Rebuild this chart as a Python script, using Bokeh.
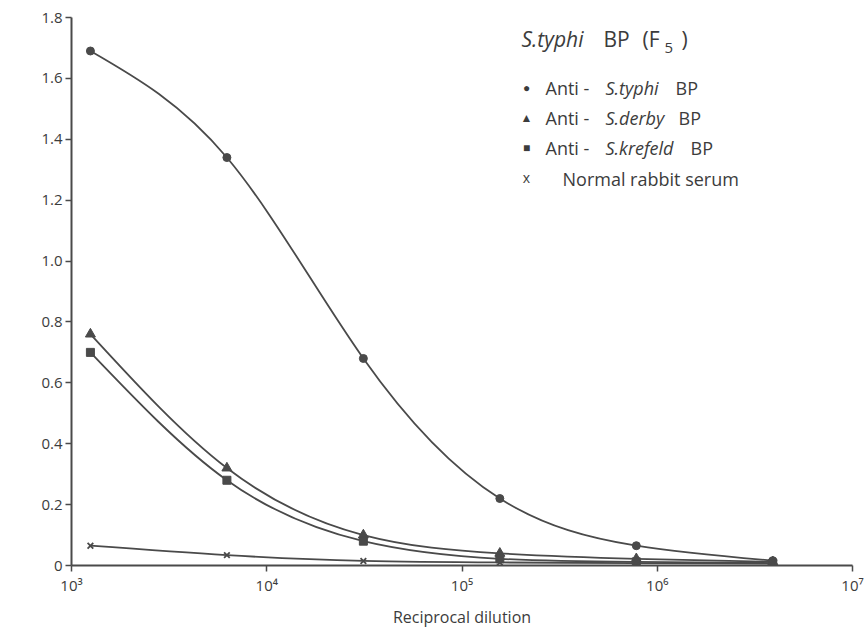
import math
import numpy as np
from bokeh.plotting import figure
from bokeh.models import Range1d, FixedTicker, Label
from bokeh.embed import file_html
from bokeh.resources import INLINE

# ---------------- data ----------------
dilution = [1250, 6250, 31250, 156250, 781250, 3906250]
anti_typhi = [1.69, 1.34, 0.68, 0.22, 0.065, 0.016]
anti_derby = [0.76, 0.32, 0.10, 0.04, 0.022, 0.012]
anti_krefeld = [0.70, 0.28, 0.08, 0.022, 0.012, 0.008]
normal_serum = [0.065, 0.034, 0.015, 0.010, 0.008, 0.006]

x_ticks = [1e3, 1e4, 1e5, 1e6, 1e7]
x_tick_labels = ["10³", "10⁴", "10⁵", "10⁶", "10⁷"]
y_ticks = [0, 0.2, 0.4, 0.6, 0.8, 1.0, 1.2, 1.4, 1.6, 1.8]
y_tick_labels = ["0", "0.2", "0.4", "0.6", "0.8", "1.0", "1.2", "1.4", "1.6", "1.8"]

# ---------------- style ----------------
FONT = "Open Sans"
INK = "#3c3c3c"
LINE = "#4a4a4a"
W, H = 865, 630
LEFT, RIGHT, TOP, BOTTOM = 71, 13, 17, 58

p = figure(width=W, height=H, x_axis_type="log",
           x_range=Range1d(1e3, 1e7), y_range=Range1d(0, 1.8),
           output_backend="svg", toolbar_location=None,
           min_border_left=LEFT, min_border_right=RIGHT,
           min_border_top=TOP, min_border_bottom=BOTTOM)
p.outline_line_color = None
p.grid.visible = False
p.background_fill_color = "white"
p.border_fill_color = "white"

for ax in (p.xaxis[0], p.yaxis[0]):
    ax.axis_line_color = LINE
    ax.axis_line_width = 2
    ax.major_tick_line_color = LINE
    ax.major_tick_line_width = 1.5
    ax.major_tick_in = 0
    ax.major_tick_out = 6
    ax.minor_tick_line_color = None
    ax.major_label_text_font = FONT
    ax.major_label_text_color = INK
    ax.major_label_text_font_size = "15px"
    ax.axis_label_text_font = FONT
    ax.axis_label_text_color = INK
    ax.axis_label_text_font_size = "16px"
    ax.axis_label_text_font_style = "normal"

p.xaxis.ticker = FixedTicker(ticks=x_ticks)
p.xaxis.major_label_overrides = {t: l for t, l in zip(x_ticks, x_tick_labels)}
p.xaxis.axis_label = "Reciprocal dilution"
p.xaxis.major_label_standoff = 3
p.xaxis.axis_label_standoff = 8

p.yaxis.ticker = FixedTicker(ticks=y_ticks)
p.yaxis.major_label_overrides = {t: l for t, l in zip(y_ticks, y_tick_labels)}
p.yaxis.major_label_standoff = 3


def smooth(xs, ys):
    """Natural cubic spline in log-x space, drawn as Bezier segments."""
    lx = np.log10(np.asarray(xs, float))
    y = np.asarray(ys, float)
    n = len(lx)
    h = np.diff(lx)
    d = np.diff(y) / h
    A = np.zeros((n, n))
    b = np.zeros(n)
    A[0, 0], A[0, 1], b[0] = 2 / h[0], 1 / h[0], 3 * d[0] / h[0]
    A[-1, -2], A[-1, -1], b[-1] = 1 / h[-1], 2 / h[-1], 3 * d[-1] / h[-1]
    for i in range(1, n - 1):
        A[i, i - 1] = 1 / h[i - 1]
        A[i, i] = 2 / h[i - 1] + 2 / h[i]
        A[i, i + 1] = 1 / h[i]
        b[i] = 3 * (d[i - 1] / h[i - 1] + d[i] / h[i])
    m = np.linalg.solve(A, b)
    return dict(
        x0=10 ** lx[:-1], y0=y[:-1], x1=10 ** lx[1:], y1=y[1:],
        cx0=10 ** (lx[:-1] + h / 3), cy0=y[:-1] + m[:-1] * h / 3,
        cx1=10 ** (lx[1:] - h / 3), cy1=y[1:] - m[1:] * h / 3,
    )


for ys in (anti_typhi, anti_derby, anti_krefeld, normal_serum):
    p.bezier(line_color=LINE, line_width=1.8, **smooth(dilution, ys))

p.scatter(dilution, anti_typhi, marker="circle", size=8,
          fill_color=LINE, line_color=LINE)
p.scatter(dilution, anti_derby, marker="triangle", size=10,
          fill_color=LINE, line_color=LINE)
p.scatter(dilution, anti_krefeld, marker="square", size=8,
          fill_color=LINE, line_color=LINE)
p.scatter(dilution, normal_serum, marker="x", size=8,
          line_color=LINE, line_width=1.8)


# ---------------- text placed in canvas px ----------------
def put(text, cx, cy, size="18px", style="normal", align="left", angle=0.0):
    p.add_layout(Label(x=cx - LEFT, y=(H - BOTTOM) - cy,
                       x_units="screen", y_units="screen", text=text,
                       text_font=FONT, text_font_size=size,
                       text_font_style=style, text_color=INK,
                       text_align=align, text_baseline="middle",
                       angle=angle))


# y-axis title
put("Absorbance at 492 nm", 21, 257, "16px", align="center", angle=math.pi / 2)

# legend title
put("S.typhi", 521, 45, "21px", "italic")
put("BP", 603, 45, "21px")
put("(F", 642, 45, "21px")
put("5", 664, 54, "15px")
put(")", 681, 45, "21px")

# legend symbols
put("●", 526, 94, "12px", align="center")
put("▲", 526, 124, "12px", align="center")
put("■", 526, 154, "12px", align="center")
put("x", 526, 184, "14px", align="center")

# legend entries
put("Anti -", 545, 94)
put("S.typhi", 605, 94, style="italic")
put("BP", 675, 94)
put("Anti -", 545, 124)
put("S.derby", 605, 124, style="italic")
put("BP", 678, 124)
put("Anti -", 545, 154)
put("S.krefeld", 605, 154, style="italic")
put("BP", 690, 154)
put("Normal rabbit serum", 562, 185)

open("out.html", "w").write(file_html(p, INLINE))
